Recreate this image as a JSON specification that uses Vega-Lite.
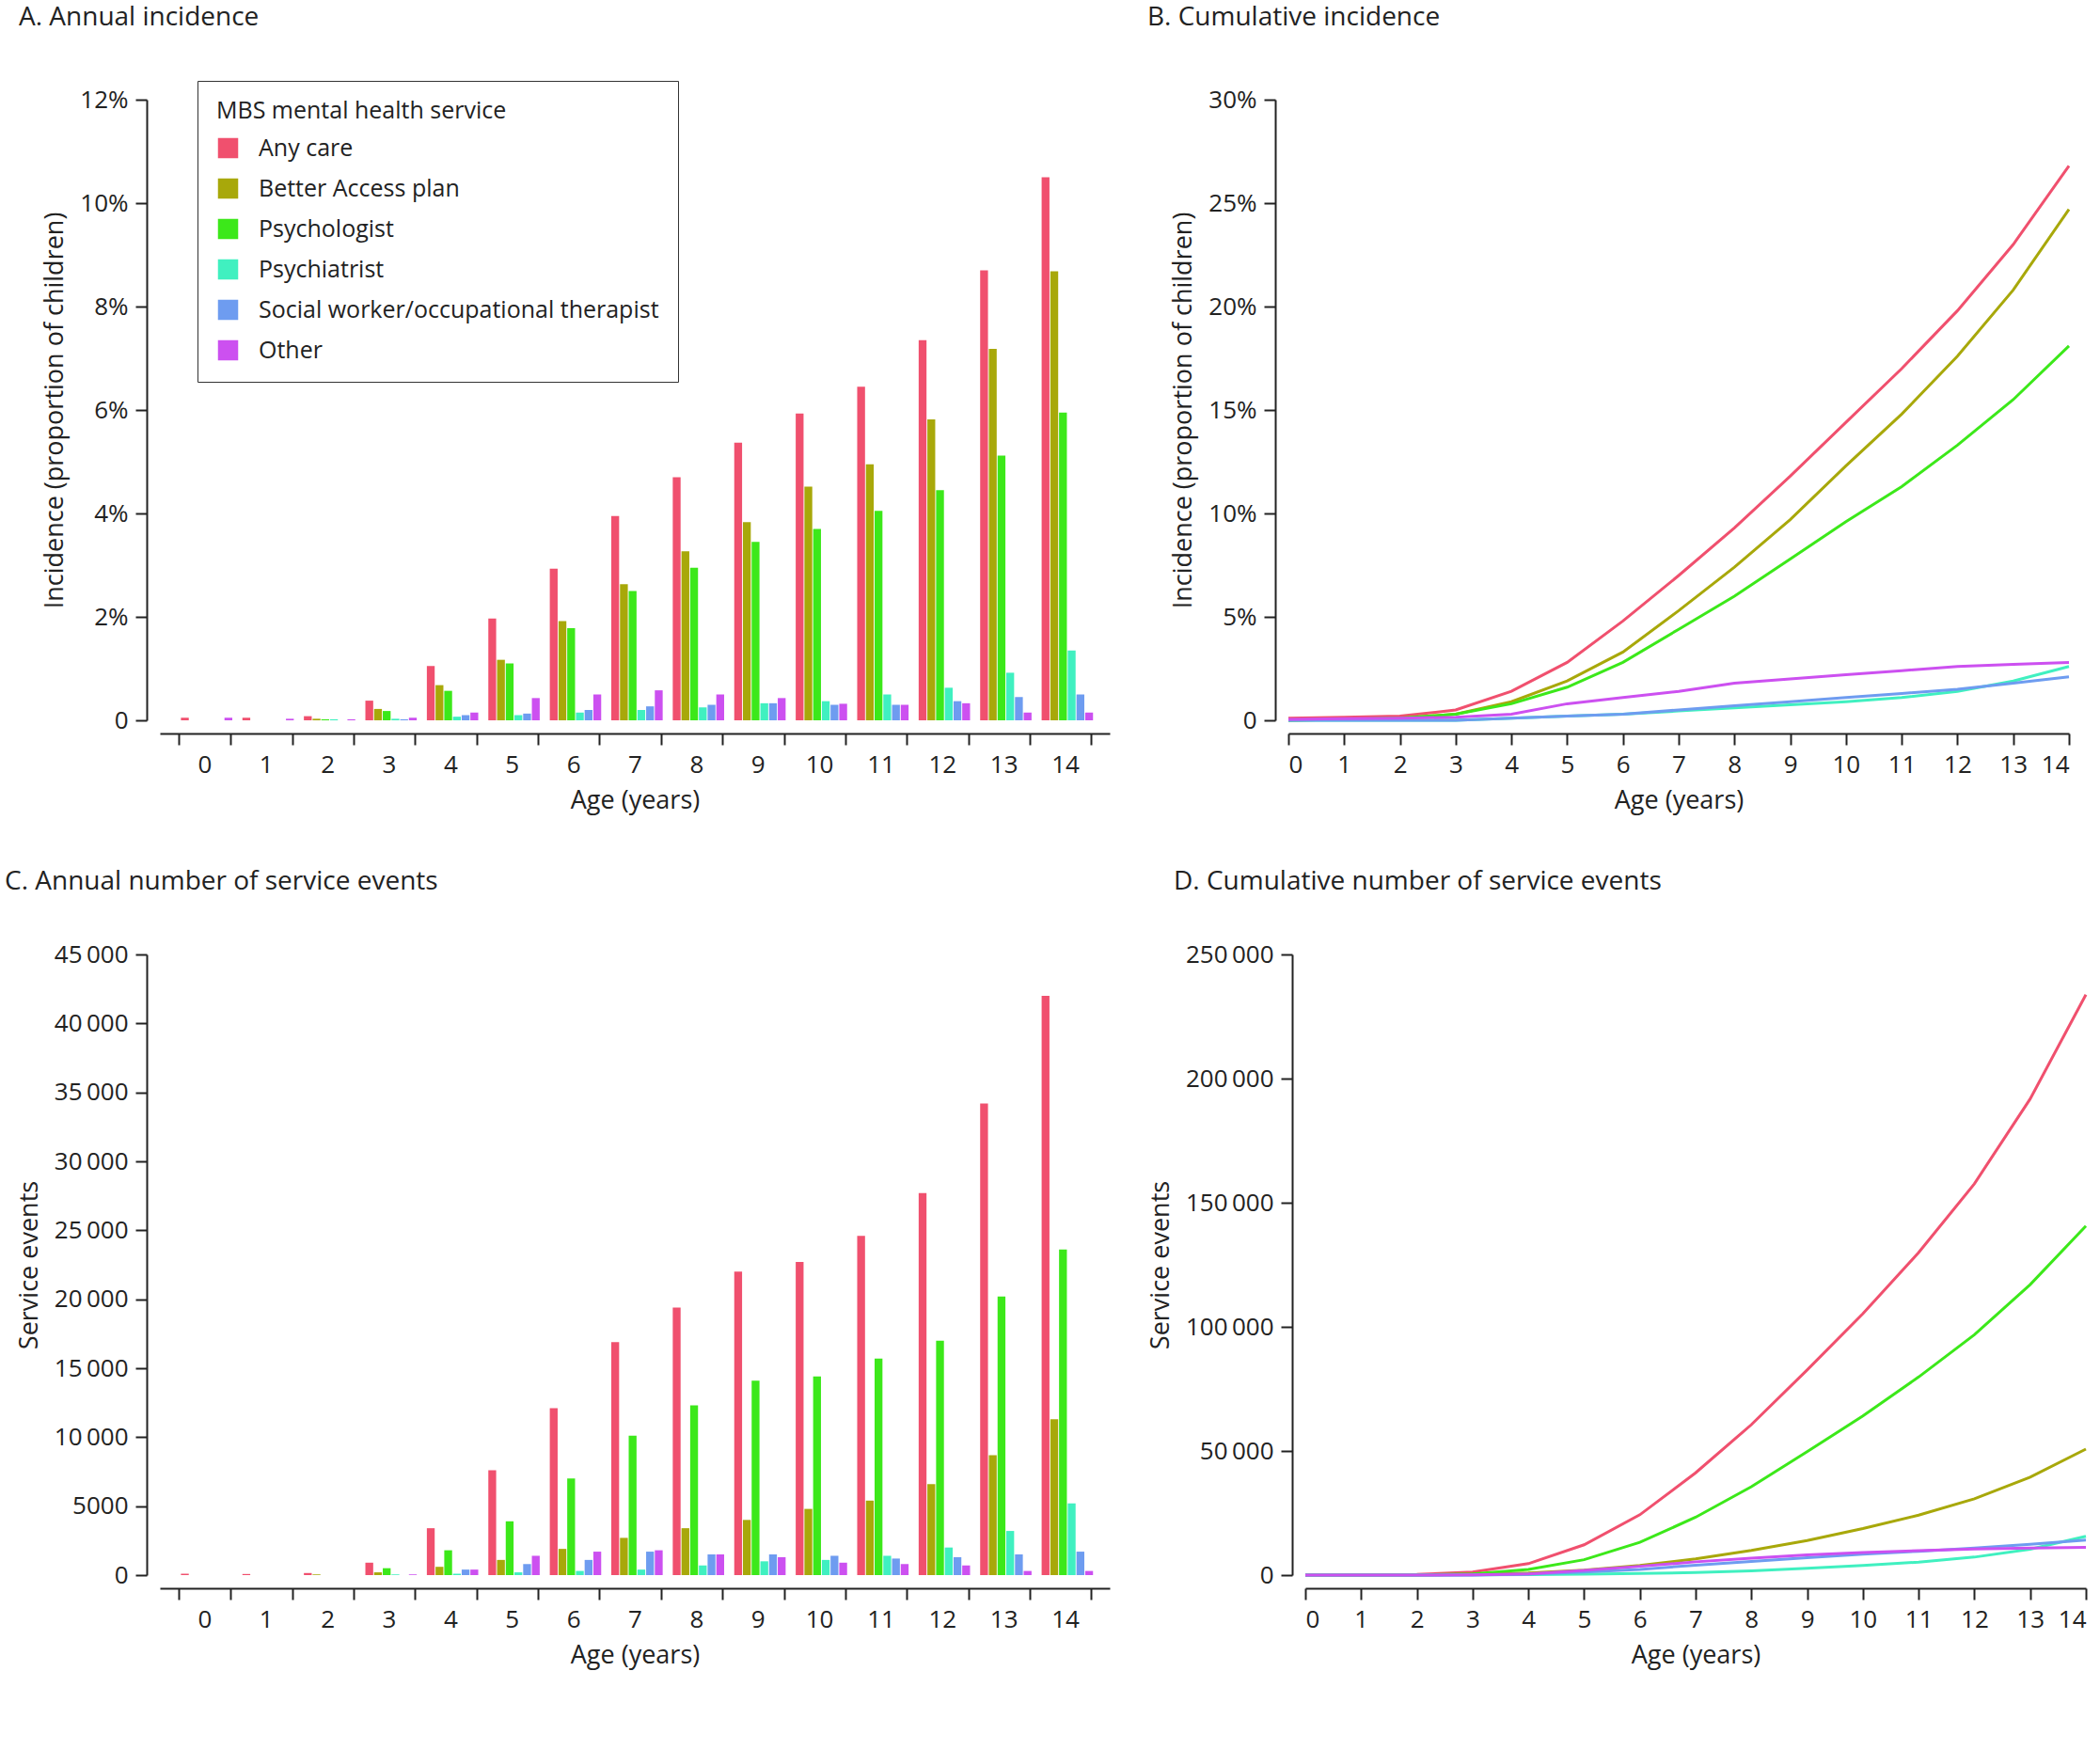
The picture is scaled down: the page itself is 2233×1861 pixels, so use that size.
{
  "$schema": "https://vega.github.io/schema/vega-lite/v6.json",
  "background": "white",
  "padding": {"left": 5, "top": 5, "right": 10, "bottom": 5},
  "datasets": {
    "annual": [
      {"age":0,"service":"Any care","pct":0.05,"events":100},
      {"age":0,"service":"Better Access plan","pct":0,"events":0},
      {"age":0,"service":"Psychologist","pct":0,"events":0},
      {"age":0,"service":"Psychiatrist","pct":0,"events":0},
      {"age":0,"service":"Social worker/occupational therapist","pct":0,"events":0},
      {"age":0,"service":"Other","pct":0.05,"events":0},
      {"age":1,"service":"Any care","pct":0.05,"events":80},
      {"age":1,"service":"Better Access plan","pct":0,"events":0},
      {"age":1,"service":"Psychologist","pct":0,"events":0},
      {"age":1,"service":"Psychiatrist","pct":0,"events":0},
      {"age":1,"service":"Social worker/occupational therapist","pct":0,"events":0},
      {"age":1,"service":"Other","pct":0.03,"events":0},
      {"age":2,"service":"Any care","pct":0.08,"events":150},
      {"age":2,"service":"Better Access plan","pct":0.03,"events":50},
      {"age":2,"service":"Psychologist","pct":0.02,"events":0},
      {"age":2,"service":"Psychiatrist","pct":0.02,"events":0},
      {"age":2,"service":"Social worker/occupational therapist","pct":0,"events":0},
      {"age":2,"service":"Other","pct":0.02,"events":0},
      {"age":3,"service":"Any care","pct":0.38,"events":900},
      {"age":3,"service":"Better Access plan","pct":0.22,"events":200},
      {"age":3,"service":"Psychologist","pct":0.18,"events":500},
      {"age":3,"service":"Psychiatrist","pct":0.03,"events":50},
      {"age":3,"service":"Social worker/occupational therapist","pct":0.02,"events":0},
      {"age":3,"service":"Other","pct":0.05,"events":50},
      {"age":4,"service":"Any care","pct":1.05,"events":3400},
      {"age":4,"service":"Better Access plan","pct":0.68,"events":600},
      {"age":4,"service":"Psychologist","pct":0.57,"events":1800},
      {"age":4,"service":"Psychiatrist","pct":0.07,"events":100},
      {"age":4,"service":"Social worker/occupational therapist","pct":0.1,"events":400},
      {"age":4,"service":"Other","pct":0.15,"events":400},
      {"age":5,"service":"Any care","pct":1.97,"events":7600},
      {"age":5,"service":"Better Access plan","pct":1.17,"events":1100},
      {"age":5,"service":"Psychologist","pct":1.1,"events":3900},
      {"age":5,"service":"Psychiatrist","pct":0.1,"events":200},
      {"age":5,"service":"Social worker/occupational therapist","pct":0.13,"events":800},
      {"age":5,"service":"Other","pct":0.43,"events":1400},
      {"age":6,"service":"Any care","pct":2.93,"events":12100},
      {"age":6,"service":"Better Access plan","pct":1.92,"events":1900},
      {"age":6,"service":"Psychologist","pct":1.78,"events":7000},
      {"age":6,"service":"Psychiatrist","pct":0.15,"events":300},
      {"age":6,"service":"Social worker/occupational therapist","pct":0.2,"events":1100},
      {"age":6,"service":"Other","pct":0.5,"events":1700},
      {"age":7,"service":"Any care","pct":3.95,"events":16900},
      {"age":7,"service":"Better Access plan","pct":2.63,"events":2700},
      {"age":7,"service":"Psychologist","pct":2.5,"events":10100},
      {"age":7,"service":"Psychiatrist","pct":0.2,"events":400},
      {"age":7,"service":"Social worker/occupational therapist","pct":0.27,"events":1700},
      {"age":7,"service":"Other","pct":0.58,"events":1800},
      {"age":8,"service":"Any care","pct":4.7,"events":19400},
      {"age":8,"service":"Better Access plan","pct":3.27,"events":3400},
      {"age":8,"service":"Psychologist","pct":2.95,"events":12300},
      {"age":8,"service":"Psychiatrist","pct":0.25,"events":700},
      {"age":8,"service":"Social worker/occupational therapist","pct":0.3,"events":1500},
      {"age":8,"service":"Other","pct":0.5,"events":1500},
      {"age":9,"service":"Any care","pct":5.37,"events":22000},
      {"age":9,"service":"Better Access plan","pct":3.83,"events":4000},
      {"age":9,"service":"Psychologist","pct":3.45,"events":14100},
      {"age":9,"service":"Psychiatrist","pct":0.33,"events":1000},
      {"age":9,"service":"Social worker/occupational therapist","pct":0.33,"events":1500},
      {"age":9,"service":"Other","pct":0.43,"events":1300},
      {"age":10,"service":"Any care","pct":5.93,"events":22700},
      {"age":10,"service":"Better Access plan","pct":4.52,"events":4800},
      {"age":10,"service":"Psychologist","pct":3.7,"events":14400},
      {"age":10,"service":"Psychiatrist","pct":0.37,"events":1100},
      {"age":10,"service":"Social worker/occupational therapist","pct":0.3,"events":1400},
      {"age":10,"service":"Other","pct":0.32,"events":900},
      {"age":11,"service":"Any care","pct":6.45,"events":24600},
      {"age":11,"service":"Better Access plan","pct":4.95,"events":5400},
      {"age":11,"service":"Psychologist","pct":4.05,"events":15700},
      {"age":11,"service":"Psychiatrist","pct":0.5,"events":1400},
      {"age":11,"service":"Social worker/occupational therapist","pct":0.3,"events":1200},
      {"age":11,"service":"Other","pct":0.3,"events":800},
      {"age":12,"service":"Any care","pct":7.35,"events":27700},
      {"age":12,"service":"Better Access plan","pct":5.82,"events":6600},
      {"age":12,"service":"Psychologist","pct":4.45,"events":17000},
      {"age":12,"service":"Psychiatrist","pct":0.63,"events":2000},
      {"age":12,"service":"Social worker/occupational therapist","pct":0.37,"events":1300},
      {"age":12,"service":"Other","pct":0.33,"events":700},
      {"age":13,"service":"Any care","pct":8.7,"events":34200},
      {"age":13,"service":"Better Access plan","pct":7.18,"events":8700},
      {"age":13,"service":"Psychologist","pct":5.12,"events":20200},
      {"age":13,"service":"Psychiatrist","pct":0.92,"events":3200},
      {"age":13,"service":"Social worker/occupational therapist","pct":0.45,"events":1500},
      {"age":13,"service":"Other","pct":0.15,"events":300},
      {"age":14,"service":"Any care","pct":10.5,"events":42000},
      {"age":14,"service":"Better Access plan","pct":8.68,"events":11300},
      {"age":14,"service":"Psychologist","pct":5.95,"events":23600},
      {"age":14,"service":"Psychiatrist","pct":1.35,"events":5200},
      {"age":14,"service":"Social worker/occupational therapist","pct":0.5,"events":1700},
      {"age":14,"service":"Other","pct":0.15,"events":300}
    ],
    "cumulative": [
      {"service":"Any care","age":0,"pct":0.1,"events":0},{"service":"Any care","age":1,"pct":0.15,"events":100},{"service":"Any care","age":2,"pct":0.2,"events":250},{"service":"Any care","age":3,"pct":0.5,"events":1200},{"service":"Any care","age":4,"pct":1.4,"events":4600},{"service":"Any care","age":5,"pct":2.8,"events":12200},{"service":"Any care","age":6,"pct":4.8,"events":24300},{"service":"Any care","age":7,"pct":7.0,"events":41200},{"service":"Any care","age":8,"pct":9.3,"events":60600},{"service":"Any care","age":9,"pct":11.8,"events":82600},{"service":"Any care","age":10,"pct":14.4,"events":105300},{"service":"Any care","age":11,"pct":17.0,"events":129900},{"service":"Any care","age":12,"pct":19.8,"events":157600},{"service":"Any care","age":13,"pct":23.0,"events":191800},{"service":"Any care","age":14,"pct":26.8,"events":233800},
      {"service":"Better Access plan","age":0,"pct":0,"events":0},{"service":"Better Access plan","age":1,"pct":0.05,"events":0},{"service":"Better Access plan","age":2,"pct":0.1,"events":50},{"service":"Better Access plan","age":3,"pct":0.3,"events":250},{"service":"Better Access plan","age":4,"pct":0.9,"events":850},{"service":"Better Access plan","age":5,"pct":1.9,"events":1950},{"service":"Better Access plan","age":6,"pct":3.3,"events":3850},{"service":"Better Access plan","age":7,"pct":5.3,"events":6550},{"service":"Better Access plan","age":8,"pct":7.4,"events":9950},{"service":"Better Access plan","age":9,"pct":9.7,"events":13950},{"service":"Better Access plan","age":10,"pct":12.3,"events":18750},{"service":"Better Access plan","age":11,"pct":14.8,"events":24150},{"service":"Better Access plan","age":12,"pct":17.6,"events":30750},{"service":"Better Access plan","age":13,"pct":20.8,"events":39450},{"service":"Better Access plan","age":14,"pct":24.7,"events":50750},
      {"service":"Psychologist","age":0,"pct":0,"events":0},{"service":"Psychologist","age":1,"pct":0.05,"events":0},{"service":"Psychologist","age":2,"pct":0.1,"events":0},{"service":"Psychologist","age":3,"pct":0.3,"events":500},{"service":"Psychologist","age":4,"pct":0.8,"events":2300},{"service":"Psychologist","age":5,"pct":1.6,"events":6200},{"service":"Psychologist","age":6,"pct":2.8,"events":13200},{"service":"Psychologist","age":7,"pct":4.4,"events":23300},{"service":"Psychologist","age":8,"pct":6.0,"events":35600},{"service":"Psychologist","age":9,"pct":7.8,"events":49700},{"service":"Psychologist","age":10,"pct":9.6,"events":64100},{"service":"Psychologist","age":11,"pct":11.3,"events":79800},{"service":"Psychologist","age":12,"pct":13.3,"events":96800},{"service":"Psychologist","age":13,"pct":15.5,"events":117000},{"service":"Psychologist","age":14,"pct":18.1,"events":140600},
      {"service":"Psychiatrist","age":0,"pct":0,"events":0},{"service":"Psychiatrist","age":1,"pct":0,"events":0},{"service":"Psychiatrist","age":2,"pct":0,"events":0},{"service":"Psychiatrist","age":3,"pct":0,"events":50},{"service":"Psychiatrist","age":4,"pct":0.1,"events":150},{"service":"Psychiatrist","age":5,"pct":0.2,"events":350},{"service":"Psychiatrist","age":6,"pct":0.3,"events":650},{"service":"Psychiatrist","age":7,"pct":0.45,"events":1050},{"service":"Psychiatrist","age":8,"pct":0.6,"events":1750},{"service":"Psychiatrist","age":9,"pct":0.75,"events":2750},{"service":"Psychiatrist","age":10,"pct":0.9,"events":3850},{"service":"Psychiatrist","age":11,"pct":1.1,"events":5250},{"service":"Psychiatrist","age":12,"pct":1.4,"events":7250},{"service":"Psychiatrist","age":13,"pct":1.9,"events":10450},{"service":"Psychiatrist","age":14,"pct":2.6,"events":15650},
      {"service":"Social worker/occupational therapist","age":0,"pct":0,"events":0},{"service":"Social worker/occupational therapist","age":1,"pct":0,"events":0},{"service":"Social worker/occupational therapist","age":2,"pct":0,"events":0},{"service":"Social worker/occupational therapist","age":3,"pct":0,"events":0},{"service":"Social worker/occupational therapist","age":4,"pct":0.1,"events":400},{"service":"Social worker/occupational therapist","age":5,"pct":0.2,"events":1200},{"service":"Social worker/occupational therapist","age":6,"pct":0.3,"events":2300},{"service":"Social worker/occupational therapist","age":7,"pct":0.5,"events":4000},{"service":"Social worker/occupational therapist","age":8,"pct":0.7,"events":5500},{"service":"Social worker/occupational therapist","age":9,"pct":0.9,"events":7000},{"service":"Social worker/occupational therapist","age":10,"pct":1.1,"events":8400},{"service":"Social worker/occupational therapist","age":11,"pct":1.3,"events":9600},{"service":"Social worker/occupational therapist","age":12,"pct":1.5,"events":10900},{"service":"Social worker/occupational therapist","age":13,"pct":1.8,"events":12400},{"service":"Social worker/occupational therapist","age":14,"pct":2.1,"events":14100},
      {"service":"Other","age":0,"pct":0.05,"events":0},{"service":"Other","age":1,"pct":0.08,"events":0},{"service":"Other","age":2,"pct":0.1,"events":0},{"service":"Other","age":3,"pct":0.15,"events":50},{"service":"Other","age":4,"pct":0.3,"events":450},{"service":"Other","age":5,"pct":0.8,"events":1850},{"service":"Other","age":6,"pct":1.1,"events":3550},{"service":"Other","age":7,"pct":1.4,"events":5350},{"service":"Other","age":8,"pct":1.8,"events":6850},{"service":"Other","age":9,"pct":2.0,"events":8150},{"service":"Other","age":10,"pct":2.2,"events":9050},{"service":"Other","age":11,"pct":2.4,"events":9850},{"service":"Other","age":12,"pct":2.6,"events":10550},{"service":"Other","age":13,"pct":2.7,"events":10850},{"service":"Other","age":14,"pct":2.8,"events":11150}
    ]
  },
  "vconcat": [
    {
      "hconcat": [
        {
          "title": {"text": "A. Annual incidence", "anchor": "start", "frame": "group", "offset": 60, "dx": -150},
          "width": 1010, "height": 660,
          "data": {"name": "annual"},
          "mark": {"type": "bar", "width": {"band": 0.9}},
          "encoding": {
            "x": {"field": "age", "type": "ordinal", "title": "Age (years)", "scale": {"paddingInner": 0.15, "paddingOuter": 0.3}, "axis": {"labelAngle": 0, "tickBand": "extent"}},
            "xOffset": {"field": "service", "type": "nominal", "sort": null},
            "y": {"field": "pct", "type": "quantitative", "title": "Incidence (proportion of children)", "scale": {"domain": [0, 12]}, "axis": {"values": [0,2,4,6,8,10,12], "labelExpr": "datum.value == 0 ? '0' : datum.value + '%'"}},
            "color": {"field": "service", "type": "nominal", "sort": null, "title": "MBS mental  health service",
              "scale": {"domain": ["Any care", "Better Access plan", "Psychologist", "Psychiatrist", "Social worker/occupational therapist", "Other"], "range": ["#f0506e", "#a8a80a", "#3ce81a", "#40f0c0", "#6e9cf0", "#cc50f0"]},
              "legend": {"orient": "none", "legendX": 40, "legendY": -20, "strokeColor": "#333", "padding": 20, "symbolType": "square", "symbolSize": 400, "rowPadding": 16, "labelFontSize": 25, "titleFontSize": 25, "titleFontWeight": "normal", "titlePadding": 14, "labelOffset": 20, "labelLimit": 0, "titleLimit": 0}}
          }
        },
        {
          "title": {"text": "B. Cumulative incidence", "anchor": "start", "frame": "group", "offset": 60, "dx": -150},
          "width": 830, "height": 660,
          "data": {"name": "cumulative"},
          "mark": {"type": "line", "strokeWidth": 3},
          "encoding": {
            "x": {"field": "age", "type": "quantitative", "title": "Age (years)", "scale": {"domain": [0, 14]}, "axis": {"values": [0,1,2,3,4,5,6,7,8,9,10,11,12,13,14]}},
            "y": {"field": "pct", "type": "quantitative", "title": "Incidence (proportion of children)", "scale": {"domain": [0, 30]}, "axis": {"values": [0,5,10,15,20,25,30], "labelExpr": "datum.value == 0 ? '0' : datum.value + '%'"}},
            "color": {"field": "service", "type": "nominal", "sort": null, "legend": null}
          }
        }
      ]
    },
    {
      "hconcat": [
        {
          "title": {"text": "C. Annual number of service events", "anchor": "start", "frame": "group", "offset": 50, "dx": -165},
          "width": 1010, "height": 660,
          "data": {"name": "annual"},
          "mark": {"type": "bar", "width": {"band": 0.9}},
          "encoding": {
            "x": {"field": "age", "type": "ordinal", "title": "Age (years)", "scale": {"paddingInner": 0.15, "paddingOuter": 0.3}, "axis": {"labelAngle": 0, "tickBand": "extent"}},
            "xOffset": {"field": "service", "type": "nominal", "sort": null},
            "y": {"field": "events", "type": "quantitative", "title": "Service events", "scale": {"domain": [0, 45000]}, "axis": {"values": [0,5000,10000,15000,20000,25000,30000,35000,40000,45000], "labelExpr": "datum.value >= 10000 ? replace(format(datum.value, ','), ',', '\u2009') : format(datum.value, 'd')"}},
            "color": {"field": "service", "type": "nominal", "sort": null, "legend": null}
          }
        },
        {
          "title": {"text": "D. Cumulative number of service events", "anchor": "start", "frame": "group", "offset": 50, "dx": -140},
          "width": 830, "height": 660,
          "data": {"name": "cumulative"},
          "mark": {"type": "line", "strokeWidth": 3},
          "encoding": {
            "x": {"field": "age", "type": "quantitative", "title": "Age (years)", "scale": {"domain": [0, 14]}, "axis": {"values": [0,1,2,3,4,5,6,7,8,9,10,11,12,13,14]}},
            "y": {"field": "events", "type": "quantitative", "title": "Service events", "scale": {"domain": [0, 250000]}, "axis": {"values": [0,50000,100000,150000,200000,250000], "labelExpr": "datum.value >= 10000 ? replace(format(datum.value, ','), ',', '\u2009') : format(datum.value, 'd')"}},
            "color": {"field": "service", "type": "nominal", "sort": null, "legend": null}
          }
        }
      ]
    }
  ],
  "resolve": {"scale": {"color": "shared"}},
  "spacing": 60,
  "config": {
    "font": "Open Sans",
    "concat": {"spacing": 40},
    "view": {"stroke": null},
    "title": {"fontSize": 28, "fontWeight": "normal", "color": "#222"},
    "axis": {"grid": false, "domainColor": "#222", "domainWidth": 2, "tickColor": "#222", "tickWidth": 2, "tickSize": 12, "offset": 14, "labelFontSize": 26, "titleFontSize": 27, "titleFontWeight": "normal", "labelColor": "#222", "titleColor": "#222", "labelPadding": 8, "titlePadding": 12},
    "legend": {"labelColor": "#222", "titleColor": "#222", "labelFont": "Open Sans", "titleFont": "Open Sans"}
  }
}
